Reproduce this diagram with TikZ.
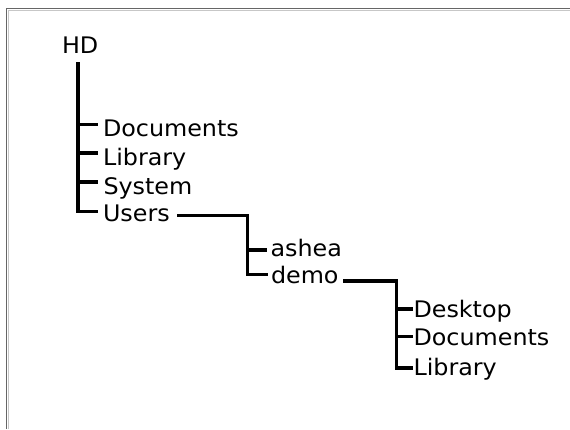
\documentclass[tikz,border=0pt]{standalone}
\usepackage{fontspec}
\setmainfont{DejaVu Sans}[FakeStretch=1.045]
\usetikzlibrary{calc}
\begin{document}
\begin{tikzpicture}[x=1pt,y=-1pt,
  lbl/.style={inner sep=0pt, outer sep=0pt, anchor=base west, font=\fontsize{22.8}{27}\selectfont},
  branch/.style={line width=3.4pt, black},
  frameA/.style={line width=1.5pt, black!60},
  frameB/.style={line width=1pt, black!22}]
\useasboundingbox (0,0) rectangle (570,429);
% frame
\coordinate (fc) at (6.5,8.5);
\coordinate (fc2) at (8.3,10.3);
\draw[frameA] (fc |- 0,429) -- (fc) -- (fc -| 570,0);
\draw[frameB] (fc2 |- 0,429) -- (fc2) -- (fc2 -| 570,0);
% labels
\node[lbl] (hd) at (62,53) {HD};
\node[lbl] (d1) at (103,136.7) {Documents};
\node[lbl] (l1) at (103,165.7) {Library};
\node[lbl] (s1) at (103.5,194.3) {System};
\node[lbl] (u1) at (103,221.5) {Users};
\node[lbl] (ash) at (270.5,256) {ashea};
\node[lbl] (dem) at (271,283) {demo};
\node[lbl] (dk) at (413.5,317.3) {Desktop};
\node[lbl] (d3) at (413.5,345) {Documents};
\node[lbl] (l3) at (413.5,375) {Library};
% junctions
\coordinate (a0) at (78,62);
\coordinate (a1) at (78,124.5);
\coordinate (a2) at (78,153);
\coordinate (a3) at (78,182);
\coordinate (a4) at (78,211.5);
\coordinate (b0) at (247.3,215.5);
\coordinate (b1) at (247.3,250);
\coordinate (b2) at (247.3,274.7);
\coordinate (c0) at (396.7,281);
\coordinate (c1) at (396.7,309);
\coordinate (c2) at (396.7,336.7);
\coordinate (c3) at (396.7,368);
% level 1
\draw[branch] (a0) -- (a4) -- ($(a4 -| d1.west)+(-5.5,0)$);
\draw[branch] (a1) -- ($(a1 -| d1.west)+(-5.5,0)$);
\draw[branch] (a2) -- ($(a2 -| d1.west)+(-5.5,0)$);
\draw[branch] (a3) -- ($(a3 -| d1.west)+(-5.5,0)$);
% Users -> level 2
\draw[branch] (177,215.5) -- (b0) -- (b2) -- ($(b2 -| dem.west)+(-3.5,0)$);
\draw[branch] (b1) -- ($(b1 -| ash.west)+(-3.5,0)$);
% demo -> level 3
\draw[branch] (343,281) -- (c0) -- (c3) -- ($(c3 -| l3.west)+(-0.5,0)$);
\draw[branch] (c1) -- ($(c1 -| dk.west)+(-0.5,0)$);
\draw[branch] (c2) -- ($(c2 -| d3.west)+(-0.5,0)$);
\end{tikzpicture}
\end{document}
